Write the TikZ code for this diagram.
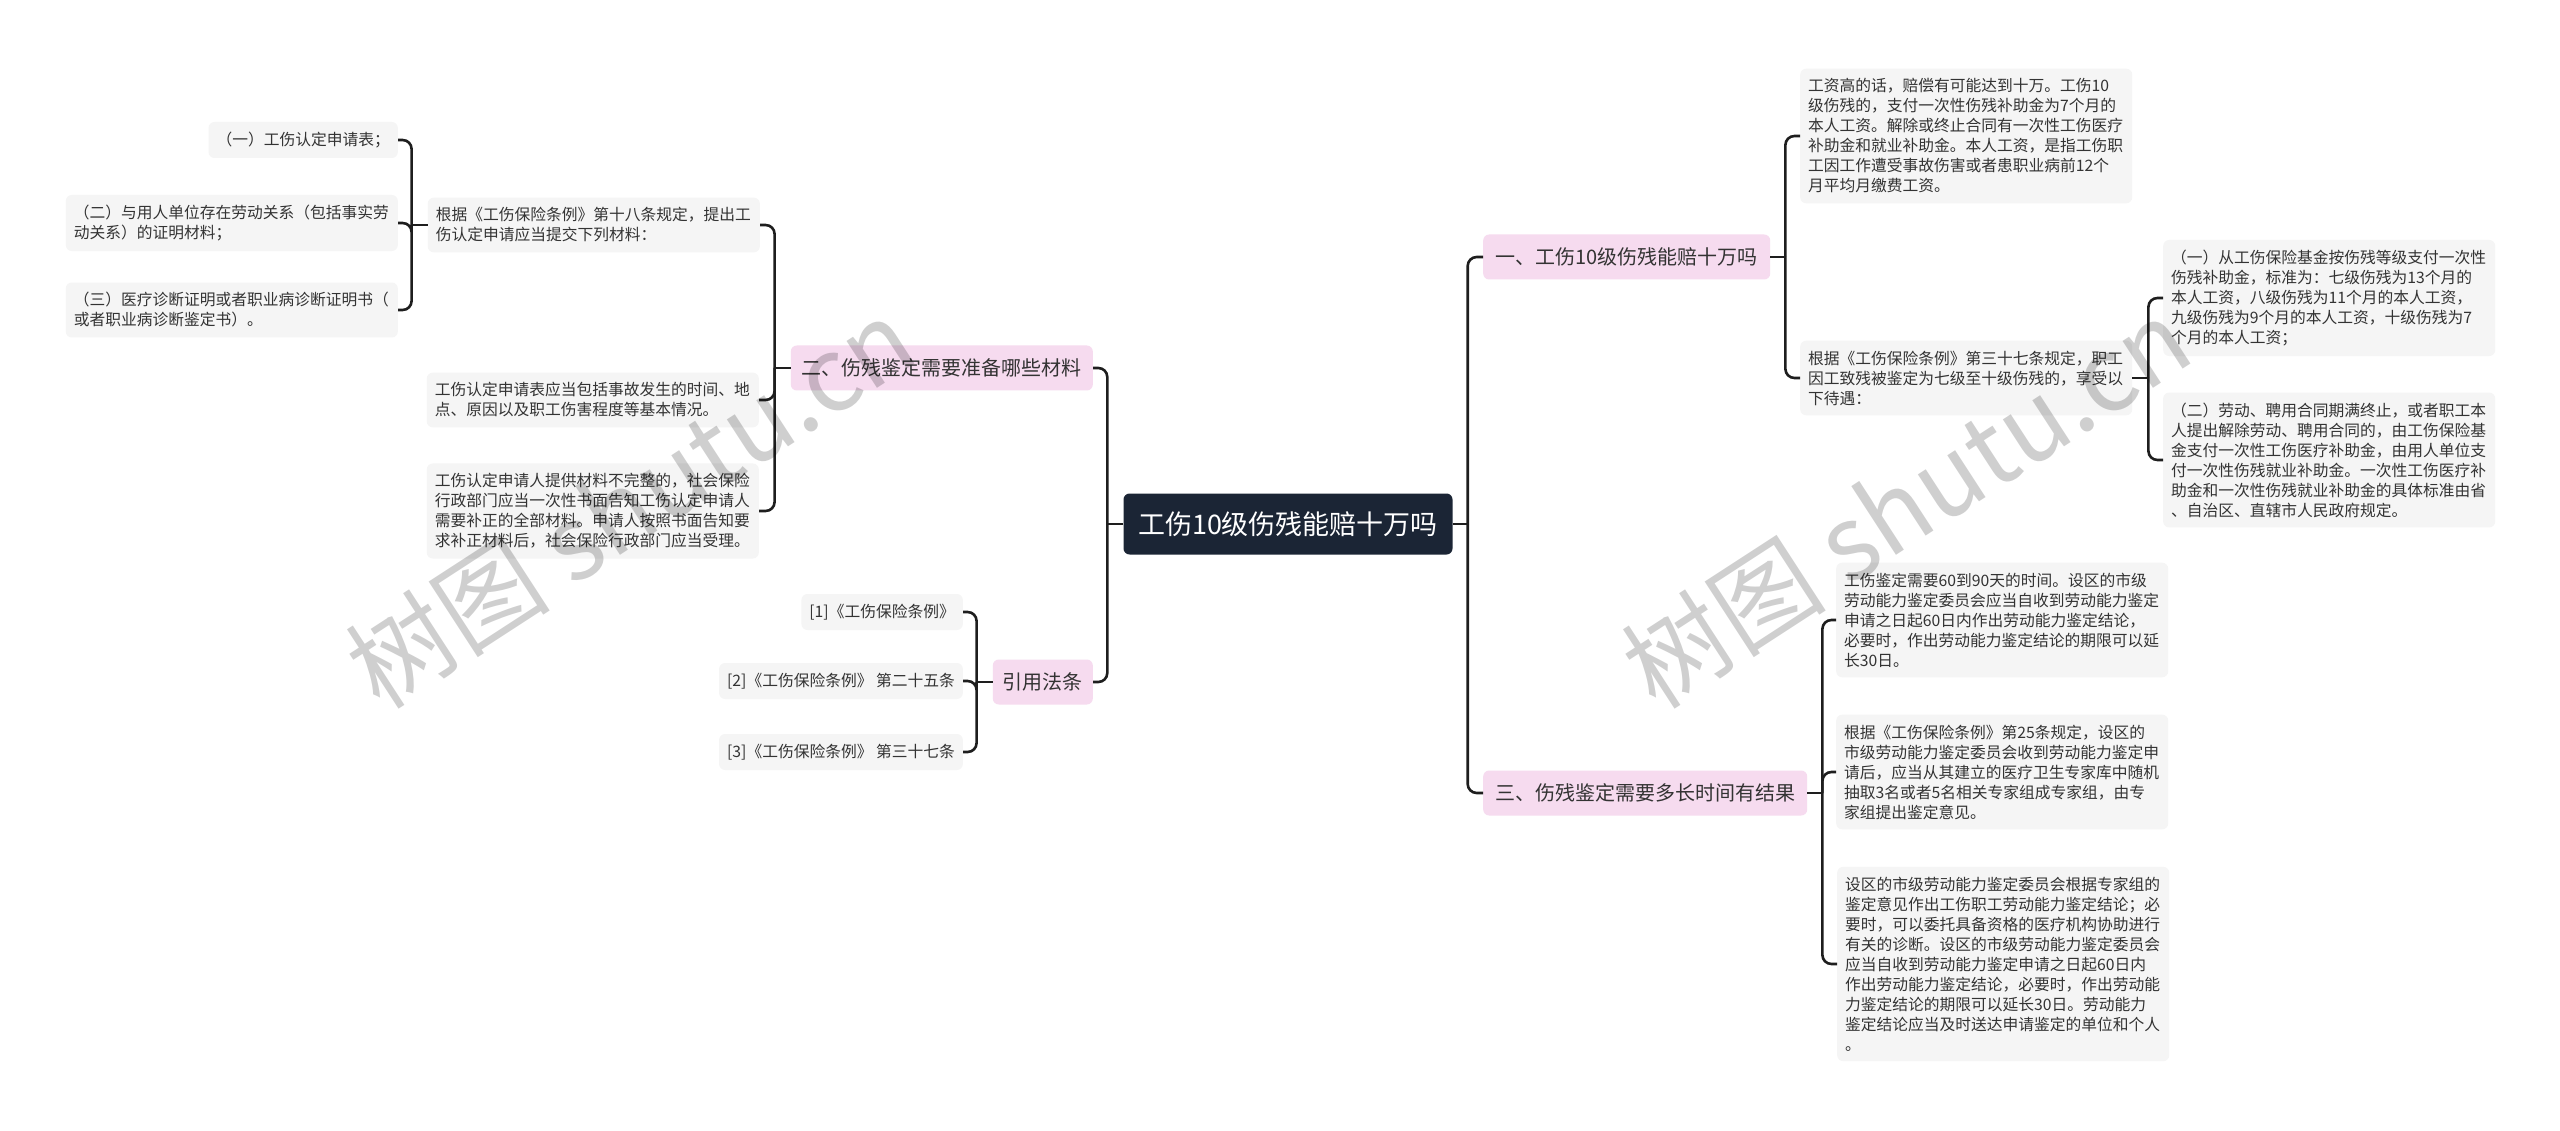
\documentclass[tikz,border=0pt]{standalone}
\usepackage{fontspec}
\newfontfamily\cjk{Noto Sans CJK SC}
\definecolor{rootc}{HTML}{1B2535}
\definecolor{pinkc}{HTML}{F6DBEF}
\definecolor{boxc}{HTML}{F5F5F5}
\definecolor{txtc}{HTML}{333333}
\definecolor{linec}{HTML}{1E1E1E}
\begin{document}
\begin{tikzpicture}[x=1pt,y=-1pt,
 rootbox/.style={fill=rootc, rounded corners=6pt, text=white, font=\cjk\fontsize{27}{32}\selectfont, minimum height=61pt, minimum width=329pt, inner xsep=14pt, inner ysep=0pt},
 branch/.style={fill=pinkc, rounded corners=6pt, text=txtc, font=\cjk\fontsize{20}{24}\selectfont, minimum height=45pt, inner xsep=9pt, inner ysep=0pt},
 leafbox/.style={fill=boxc, rounded corners=6pt, text=txtc, font=\cjk\fontsize{15.75}{20}\selectfont, inner xsep=8pt, inner ysep=10pt},
 para/.style={leafbox, text width=316pt, align=left},
 single/.style={leafbox, minimum height=36pt, inner ysep=0pt},
 conn/.style={draw=linec, line width=2.6pt, rounded corners=9pt},
 wmark/.style={font=\cjk\fontsize{103}{103}\selectfont, text=black, opacity=0.19, rotate=33},
]
\path[fill=white] (0,0) rectangle (2560,1131);
\useasboundingbox (0,0) rectangle (2560,1131);

% root and branches
\node[rootbox] (root) at (1288,524) {工伤10级伤残能赔十万吗};
\node[branch, anchor=east, minimum width=302pt] (b2) at (1093,368) {二、伤残鉴定需要准备哪些材料};
\node[branch, anchor=east, minimum width=100pt] (b4) at (1093,682) {引用法条};
\node[branch, anchor=west, minimum width=287pt] (b1) at (1483,257) {一、工伤10级伤残能赔十万吗};
\node[branch, anchor=west, minimum width=324pt] (b3) at (1483,793) {三、伤残鉴定需要多长时间有结果};

% left: materials
\node[para, anchor=east] (p18) at (760,225) {根据《工伤保险条例》第十八条规定，提出工\\伤认定申请应当提交下列材料：};
\node[single, anchor=east] (l1) at (398,140) {（一）工伤认定申请表；};
\node[para, anchor=east] (l2) at (398,223) {（二）与用人单位存在劳动关系（包括事实劳\\动关系）的证明材料；};
\node[para, anchor=east] (l3) at (398,310) {（三）医疗诊断证明或者职业病诊断证明书（\\或者职业病诊断鉴定书）。};
\node[para, anchor=east] (c2) at (759,400) {工伤认定申请表应当包括事故发生的时间、地\\点、原因以及职工伤害程度等基本情况。};
\node[para, anchor=east] (c3) at (759,511) {工伤认定申请人提供材料不完整的，社会保险\\行政部门应当一次性书面告知工伤认定申请人\\需要补正的全部材料。申请人按照书面告知要\\求补正材料后，社会保险行政部门应当受理。};

% left: references
\node[single, anchor=east] (r1) at (963,612) {[1]《工伤保险条例》};
\node[single, anchor=east] (r2) at (963,681) {[2]《工伤保险条例》 第二十五条};
\node[single, anchor=east] (r3) at (963,752) {[3]《工伤保险条例》 第三十七条};

% right: branch one
\node[para, anchor=west] (a1) at (1800,136) {工资高的话，赔偿有可能达到十万。工伤10\\级伤残的，支付一次性伤残补助金为7个月的\\本人工资。解除或终止合同有一次性工伤医疗\\补助金和就业补助金。本人工资，是指工伤职\\工因工作遭受事故伤害或者患职业病前12个\\月平均月缴费工资。};
\node[para, anchor=west] (a2) at (1800,378) {根据《工伤保险条例》第三十七条规定，职工\\因工致残被鉴定为七级至十级伤残的，享受以\\下待遇：};
\node[para, anchor=west] (a2a) at (2163,298) {（一）从工伤保险基金按伤残等级支付一次性\\伤残补助金，标准为：七级伤残为13个月的\\本人工资，八级伤残为11个月的本人工资，\\九级伤残为9个月的本人工资，十级伤残为7\\个月的本人工资；};
\node[para, anchor=west] (a2b) at (2163,460) {（二）劳动、聘用合同期满终止，或者职工本\\人提出解除劳动、聘用合同的，由工伤保险基\\金支付一次性工伤医疗补助金，由用人单位支\\付一次性伤残就业补助金。一次性工伤医疗补\\助金和一次性伤残就业补助金的具体标准由省\\、自治区、直辖市人民政府规定。};

% right: branch three
\node[para, anchor=west] (t1) at (1836,620) {工伤鉴定需要60到90天的时间。设区的市级\\劳动能力鉴定委员会应当自收到劳动能力鉴定\\申请之日起60日内作出劳动能力鉴定结论，\\必要时，作出劳动能力鉴定结论的期限可以延\\长30日。};
\node[para, anchor=west] (t2) at (1836,772) {根据《工伤保险条例》第25条规定，设区的\\市级劳动能力鉴定委员会收到劳动能力鉴定申\\请后，应当从其建立的医疗卫生专家库中随机\\抽取3名或者5名相关专家组成专家组，由专\\家组提出鉴定意见。};
\node[para, anchor=west] (t3) at (1837,964) {设区的市级劳动能力鉴定委员会根据专家组的\\鉴定意见作出工伤职工劳动能力鉴定结论；必\\要时，可以委托具备资格的医疗机构协助进行\\有关的诊断。设区的市级劳动能力鉴定委员会\\应当自收到劳动能力鉴定申请之日起60日内\\作出劳动能力鉴定结论，必要时，作出劳动能\\力鉴定结论的期限可以延长30日。劳动能力\\鉴定结论应当及时送达申请鉴定的单位和个人\\。};

% connectors
\draw[conn] (root.west) -- ++(-16,0) coordinate (sL);
\draw[conn] (sL) |- (b2.east);
\draw[conn] (sL) |- (b4.east);
\draw[conn] (root.east) -- ++(15,0) coordinate (sR);
\draw[conn] (sR) |- (b1.west);
\draw[conn] (sR) |- (b3.west);

\draw[conn] (b2.west) -- ++(-16,0) coordinate (s2);
\draw[conn] (s2) |- (p18.east);
\draw[conn] (s2) |- (c2.east);
\draw[conn] (s2) |- (c3.east);

\draw[conn] (p18.west) -- ++(-16,0) coordinate (s18);
\draw[conn] (s18) |- (l1.east);
\draw[conn] (s18) |- (l2.east);
\draw[conn] (s18) |- (l3.east);

\draw[conn] (b4.west) -- ++(-16,0) coordinate (s4);
\draw[conn] (s4) |- (r1.east);
\draw[conn] (s4) |- (r2.east);
\draw[conn] (s4) |- (r3.east);

\draw[conn] (b1.east) -- ++(15,0) coordinate (s1);
\draw[conn] (s1) |- (a1.west);
\draw[conn] (s1) |- (a2.west);

\draw[conn] (a2.east) -- ++(16,0) coordinate (sa);
\draw[conn] (sa) |- (a2a.west);
\draw[conn] (sa) |- (a2b.west);

\draw[conn] (b3.east) -- ++(15,0) coordinate (s3);
\draw[conn] (s3) |- (t1.west);
\draw[conn] (s3) |- (t2.west);
\draw[conn] (s3) |- (t3.west);

% watermarks
\node[wmark] (wm1) at (630,503) {树图 shutu.cn};
\node[wmark] (wm2) at (1906,503) {树图 shutu.cn};
\end{tikzpicture}
\end{document}
